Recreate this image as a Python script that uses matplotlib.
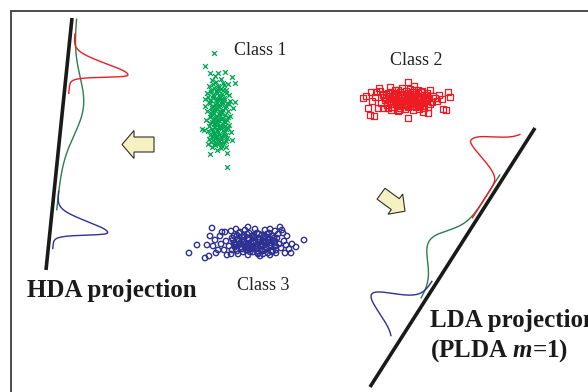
import numpy as np
import matplotlib
matplotlib.use("Agg")
import matplotlib.pyplot as plt
from matplotlib.patches import FancyArrow

plt.rcParams['font.family'] = ['Liberation Serif', 'DejaVu Serif']
plt.rcParams['mathtext.fontset'] = 'custom'
plt.rcParams['mathtext.it'] = 'Liberation Serif:italic:bold'
plt.rcParams['mathtext.rm'] = 'Liberation Serif:bold'

# ---- sample points of the three classes (canvas units, y grows downward) ----
class1_x = [214, 205, 210, 218, 225, 232, 235, 205, 202, 235, 210, 227, 221, 227, 215,
            212, 216, 221, 224, 209, 214, 219, 226, 211, 217, 222, 229, 208, 213, 219, 224,
            230, 210, 215, 220, 226, 212, 217, 223, 228, 207, 214, 219, 225, 210, 216, 221,
            227, 212, 218, 223, 229, 209, 215, 220, 226, 213, 218, 224, 210, 216, 221, 227,
            213, 219, 224, 215, 222, 209, 231, 206, 233, 205, 230, 218, 213, 222, 216, 211,
            224, 219, 214, 221, 217, 212, 226, 208, 232, 204, 207, 228, 215, 220, 218, 214,
            222, 216, 220, 225, 217, 212, 226, 229, 210, 223,
            213, 218, 223, 211, 216, 221, 226, 214, 219, 224, 209, 212, 217, 222, 227, 215,
            220, 225, 211, 216, 221, 213, 218, 223, 228, 210, 215, 220, 225, 212, 217, 222,
            214, 219, 224, 216, 221, 211, 226, 218, 213, 223, 208, 228, 215, 220, 217, 212,
            222, 219]
class1_y = [53, 66, 73, 73, 72, 77, 83, 99, 129, 102, 154, 153, 148, 167, 143,
            80, 82, 79, 85, 86, 88, 87, 90, 92, 93, 94, 95, 97, 98, 99, 100,
            101, 103, 104, 105, 106, 108, 109, 110, 111, 111, 113, 114, 115, 117, 118, 119,
            120, 122, 123, 124, 125, 126, 127, 128, 129, 131, 132, 133, 135, 136, 137, 138,
            140, 141, 142, 145, 146, 139, 132, 120, 108, 106, 116, 90, 95, 101, 107, 113,
            121, 126, 134, 143, 150, 147, 147, 144, 140, 130, 93, 84, 76, 116, 120, 124,
            112, 100, 97, 126, 139, 129, 135, 104, 100, 90,
            84, 86, 83, 90, 91, 89, 93, 96, 95, 98, 102, 106, 103, 104, 103, 110,
            111, 108, 115, 116, 113, 119, 120, 118, 117, 123, 124, 126, 122, 129, 130, 127,
            133, 134, 131, 138, 139, 142, 141, 144, 137, 136, 131, 128, 121, 112, 99, 111,
            100, 107]

class2_x = [363, 371, 376, 379, 390, 408, 414, 368, 378, 370, 374, 408, 423, 428, 443,
            446, 448, 450, 430, 435, 442, 388, 398,
            383, 388, 392, 396, 400, 404, 408, 412, 416, 420, 424, 428, 385, 390, 394, 398,
            402, 406, 410, 414, 418, 422, 426, 430, 387, 392, 396, 400, 404, 408, 412, 416,
            420, 424, 395, 402, 410, 418, 381, 386, 399, 407, 413, 421, 427, 433, 437, 391,
            399, 405, 413, 419, 428, 383, 375, 372, 366, 380, 432, 439, 394, 403, 411, 417,
            425, 389, 397, 405, 415, 423,
            384, 389, 393, 397, 401, 405, 409, 413, 417, 421, 425, 387, 391, 395, 399, 403,
            407, 411, 415, 419, 423, 427, 386, 390, 394, 398, 402, 406, 410, 414, 418, 422,
            426, 400, 408, 416, 392, 404, 412, 420]
class2_y = [98, 92, 92, 88, 87, 82, 86, 108, 108, 115, 116, 118, 112, 113, 109,
            110, 92, 97, 90, 98, 99, 108, 111,
            95, 93, 97, 94, 92, 95, 93, 96, 94, 97, 95, 98, 100, 102, 99, 101,
            98, 101, 99, 102, 100, 103, 101, 104, 105, 107, 104, 106, 103, 106, 104, 107,
            105, 108, 90, 88, 89, 90, 103, 98, 97, 98, 92, 92, 93, 96, 101, 110,
            110, 109, 110, 109, 107, 108, 97, 101, 96, 91, 102, 95, 95, 100, 103, 97,
            99, 96, 103, 104, 100, 101,
            97, 99, 96, 100, 95, 97, 96, 98, 96, 99, 97, 103, 104, 102, 104, 100,
            103, 101, 104, 102, 106, 100, 94, 92, 93, 90, 94, 91, 94, 90, 93, 91,
            95, 108, 107, 106, 107, 105, 106, 105]

class3_x = [189, 197, 205, 209, 207, 212, 210, 222, 216, 231, 236, 248, 280, 283, 304,
            291, 286, 276, 263,
            232, 237, 242, 247, 252, 257, 262, 267, 272, 277, 234, 239, 244, 249, 254, 259,
            264, 269, 274, 279, 236, 241, 246, 251, 256, 261, 266, 271, 276, 281, 238, 243,
            248, 253, 258, 263, 268, 273, 229, 226, 224, 284, 287, 289, 231, 245, 255, 265,
            275, 240, 250, 260, 270, 235, 245, 255, 265, 275, 262, 252, 242, 232, 270, 285,
            221, 218, 227, 248, 258, 268, 278, 215, 220, 213, 225, 292, 296, 282,
            233, 238, 243, 248, 253, 258, 263, 268, 273, 236, 241, 246, 251, 256, 261, 266,
            271, 276, 234, 239, 244, 249, 254, 259, 264, 269, 274, 237, 242, 247, 252, 257,
            262, 267, 272, 240, 250, 260, 270, 245, 255, 265, 235, 275, 244, 254, 264, 258,
            248, 268]
class3_y = [253, 245, 258, 256, 245, 228, 236, 232, 253, 254, 229, 227, 227, 233, 240,
            253, 245, 253, 254,
            238, 235, 237, 234, 236, 233, 235, 234, 236, 238, 243, 241, 244, 240, 243, 240,
            242, 240, 243, 244, 249, 247, 250, 246, 249, 246, 248, 246, 250, 248, 254, 252,
            255, 252, 254, 251, 253, 251, 246, 241, 250, 241, 236, 249, 231, 230, 229, 230,
            231, 232, 252, 256, 255, 244, 246, 238, 237, 246, 244, 248, 240, 250, 229, 253,
            244, 250, 255, 238, 246, 242, 234, 240, 236, 246, 232, 244, 247, 230,
            240, 239, 242, 238, 241, 239, 241, 238, 240, 245, 244, 247, 243, 246, 244, 247,
            243, 246, 236, 233, 235, 233, 237, 234, 236, 233, 238, 251, 249, 250, 249, 251,
            250, 249, 252, 243, 245, 242, 245, 248, 247, 250, 247, 241, 237, 235, 238, 253,
            244, 237]

# ---- class-conditional densities drawn beside each projection axis ----
# each entry: (centre along axis, spread before centre, spread after centre, height, start, end)
hda_axis = [(72, 18), (46, 270)]
hda_red = (51, 9, 4.5, 57, 15, 76)
hda_green = (87, 29, 29, 16, 0, 193)
hda_blue = (210, 9, 4.5, 53, 173, 232)

lda_axis = [(535, 128), (370, 387)]
lda_red = (45, 15, 8, 43, 13, 110)
lda_green = (152, 18, 18, 24, 58, 205)
lda_blue = (228, 12, 12, 44, 184, 253)

COL_RED, COL_GREEN, COL_BLUE = '#ed1c24', '#00a651', '#2e3192'
CURVE_GREEN = '#2f7a4f'

fig = plt.figure(figsize=(5.88, 3.92), dpi=100)
ax = fig.add_axes([0, 0, 1, 1])
ax.set_xlim(0, 588)
ax.set_ylim(392, 0)
ax.axis('off')

# outer frame (only the left and top edges fall inside the canvas)
ax.plot([11, 11, 600], [400, 11, 11], color='#2d2d2d', lw=1.2, solid_joinstyle='miter')


def axis_frame(axis, side):
    (x0, y0), (x1, y1) = axis
    d = np.array([x1 - x0, y1 - y0], float)
    d /= np.hypot(*d)
    n = np.array([d[1], -d[0]]) * side
    return np.array([x0, y0], float), d, n


def draw_density(axis, side, params, color, offset=4.5):
    p0, d, n = axis_frame(axis, side)
    mu, sa, sb, amp, t0, t1 = params
    t = np.linspace(t0, t1, 300)
    s = np.where(t < mu, sa, sb)
    h = offset + amp * np.exp(-0.5 * ((t - mu) / s) ** 2)
    pts = p0[None, :] + t[:, None] * d[None, :] + h[:, None] * n[None, :]
    ax.plot(pts[:, 0], pts[:, 1], color=color, lw=1.0, solid_capstyle='butt')


# projection axes
for axis in (hda_axis, lda_axis):
    (x0, y0), (x1, y1) = axis
    ax.plot([x0, x1], [y0, y1], color='#1a1a1a', lw=2.6, solid_capstyle='butt')

draw_density(hda_axis, 1, hda_green, CURVE_GREEN)
draw_density(hda_axis, 1, hda_red, COL_RED)
draw_density(hda_axis, 1, hda_blue, COL_BLUE)

draw_density(lda_axis, -1, lda_green, CURVE_GREEN)
draw_density(lda_axis, -1, lda_red, COL_RED)
draw_density(lda_axis, -1, lda_blue, COL_BLUE)

# class samples
ax.scatter(class1_x, class1_y, marker='x', s=12, color=COL_GREEN, linewidths=0.9)
ax.scatter(class2_x, class2_y, marker='s', s=14, facecolors='none',
           edgecolors=COL_RED, linewidths=0.9)
ax.scatter(class3_x, class3_y, marker='o', s=15, facecolors='none',
           edgecolors=COL_BLUE, linewidths=1.0)

# projection arrows
arrow_kw = dict(width=15, head_width=28, head_length=12, length_includes_head=True,
                facecolor='#f5f1c0', edgecolor='#2d2d2d', lw=0.8, joinstyle='miter')
ax.add_patch(FancyArrow(154, 144.5, -32, 0, **arrow_kw))
ax.add_patch(FancyArrow(381, 193.7, 24, 17.5, **dict(arrow_kw, width=13.5, head_width=25)))

# labels
label_kw = dict(fontsize=13, color='#222222', va='baseline', ha='left')
ax.text(234, 55, 'Class 1', **label_kw)
ax.text(390, 65, 'Class 2', **label_kw)
ax.text(237, 290, 'Class 3', **label_kw)

title_kw = dict(fontsize=18, fontweight='bold', color='#1a1a1a', va='baseline', ha='left')
ax.text(27, 297, 'HDA projection', **title_kw)
ax.text(430, 327, 'LDA projection', **title_kw)
ax.text(430, 357, r'(PLDA $m$=1)', **title_kw)

fig.savefig('out.png', dpi=100)
